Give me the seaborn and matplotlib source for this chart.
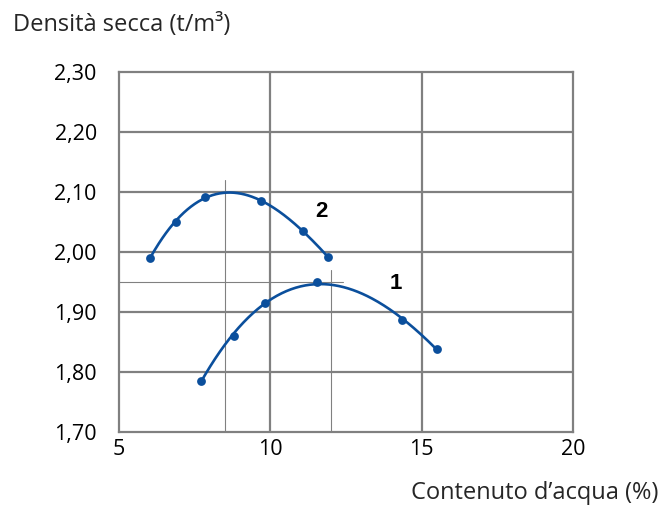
import numpy as np
import pandas as pd
import matplotlib
matplotlib.use("Agg")
import matplotlib.pyplot as plt
import seaborn as sns

# Proctor compaction curves: water content (%) vs dry density (t/m3)
water_1 = [7.7, 8.8, 9.82, 11.53, 14.34, 15.52]
density_1 = [1.785, 1.86, 1.915, 1.95, 1.886, 1.838]
water_2 = [6.02, 6.88, 7.85, 9.69, 11.07, 11.9]
density_2 = [1.99, 2.05, 2.092, 2.085, 2.035, 1.992]

# optimum values marked with guide lines
opt_w_1, opt_d_1 = 12.0, 1.95
opt_w_2, opt_d_2 = 8.5, 2.10

x_ticks = [5, 10, 15, 20]
y_ticks = [1.70, 1.80, 1.90, 2.00, 2.10, 2.20, 2.30]
y_tick_labels = ["1,70", "1,80", "1,90", "2,00", "2,10", "2,20", "2,30"]

sns.set_theme(style="white")
plt.rcParams["font.family"] = ["Open Sans", "DejaVu Sans"]

blue = "#0b4f9c"
grey = "#808080"

fig = plt.figure(figsize=(6.61, 5.07), dpi=100)
ax = fig.add_axes([0.18, 0.148, 0.687, 0.71])

# grid
for y in y_ticks[1:-1]:
    ax.axhline(y, color=grey, lw=1.6, zorder=1)
for x in x_ticks[1:-1]:
    ax.axvline(x, color=grey, lw=1.6, zorder=1)

# optimum guide lines
ax.plot([opt_w_2, opt_w_2], [1.70, 2.12], color=grey, lw=0.8, zorder=1)
ax.plot([opt_w_1, opt_w_1], [1.70, 1.97], color=grey, lw=0.8, zorder=1)
ax.plot([5, 12.4], [opt_d_1, opt_d_1], color=grey, lw=0.8, zorder=1)

def smooth(xs, ys, deg=3):
    coef = np.polyfit(xs, ys, deg)
    xx = np.linspace(min(xs), max(xs), 200)
    return pd.DataFrame({"w": xx, "d": np.polyval(coef, xx)})

for xs, ys in [(water_1, density_1), (water_2, density_2)]:
    curve = smooth(xs, ys)
    sns.lineplot(data=curve, x="w", y="d", color=blue, lw=1.9, ax=ax, zorder=3)
    pts = pd.DataFrame({"w": xs, "d": ys})
    sns.scatterplot(data=pts, x="w", y="d", color=blue, s=40, edgecolor=blue,
                    linewidth=0, ax=ax, zorder=4)

ax.text(14.15, 1.948, "1", fontsize=16, fontweight="bold", color="black",
        ha="center", va="center", family="Liberation Sans")
ax.text(11.7, 2.067, "2", fontsize=16, fontweight="bold", color="black",
        ha="center", va="center", family="Liberation Sans")

ax.set_xlim(5, 20)
ax.set_ylim(1.70, 2.30)
ax.set_xticks(x_ticks)
ax.set_xticklabels([str(v) for v in x_ticks])
ax.set_yticks(y_ticks)
ax.set_yticklabels(y_tick_labels)
ax.tick_params(axis="both", length=0, labelsize=15.5, colors="black")
ax.tick_params(axis="y", pad=16)
ax.tick_params(axis="x", pad=5)
ax.set_xlabel("")
ax.set_ylabel("")
for s in ax.spines.values():
    s.set_color(grey)
    s.set_linewidth(1.6)

fig.text(13 / 661, 1 - 25 / 507, "Densità secca (t/m³)", fontsize=17,
         ha="left", va="center")
fig.text(658 / 661, 1 - 493 / 507, "Contenuto d’acqua (%)", fontsize=17,
         ha="right", va="center")

fig.savefig("out.png", dpi=100)
